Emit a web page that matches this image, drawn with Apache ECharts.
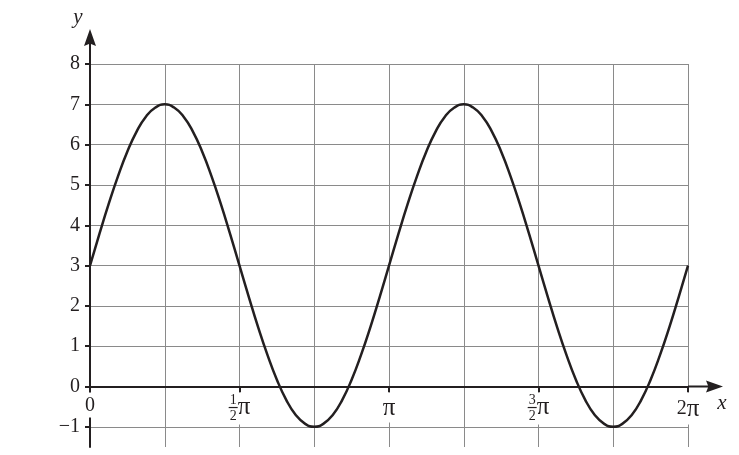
<!DOCTYPE html>
<html>
<head>
<meta charset="utf-8">
<script src="https://cdn.jsdelivr.net/npm/echarts@6/dist/echarts.min.js"></script>
<style>
  html, body { margin: 0; padding: 0; background: #fff; }
  #chart { width: 739px; height: 455px; }
</style>
</head>
<body>
<div id="chart"></div>
<script>
// x positions in units of π
const xInPi = [0, 0.03125, 0.0625, 0.09375, 0.125, 0.15625, 0.1875, 0.21875, 0.25, 0.28125, 0.3125, 0.34375, 0.375, 0.40625, 0.4375, 0.46875,
               0.5, 0.53125, 0.5625, 0.59375, 0.625, 0.65625, 0.6875, 0.71875, 0.75, 0.78125, 0.8125, 0.84375, 0.875, 0.90625, 0.9375, 0.96875,
               1, 1.03125, 1.0625, 1.09375, 1.125, 1.15625, 1.1875, 1.21875, 1.25, 1.28125, 1.3125, 1.34375, 1.375, 1.40625, 1.4375, 1.46875,
               1.5, 1.53125, 1.5625, 1.59375, 1.625, 1.65625, 1.6875, 1.71875, 1.75, 1.78125, 1.8125, 1.84375, 1.875, 1.90625, 1.9375, 1.96875, 2];
// y values
const yVals = [3, 3.78, 4.53, 5.22, 5.83, 6.33, 6.7, 6.92, 7, 6.92, 6.7, 6.33, 5.83, 5.22, 4.53, 3.78,
               3, 2.22, 1.47, 0.78, 0.17, -0.33, -0.7, -0.92, -1, -0.92, -0.7, -0.33, 0.17, 0.78, 1.47, 2.22,
               3, 3.78, 4.53, 5.22, 5.83, 6.33, 6.7, 6.92, 7, 6.92, 6.7, 6.33, 5.83, 5.22, 4.53, 3.78,
               3, 2.22, 1.47, 0.78, 0.17, -0.33, -0.7, -0.92, -1, -0.92, -0.7, -0.33, 0.17, 0.78, 1.47, 2.22, 3];
// x tick labels (positions in units of π)
const xLabelValues = [0, 0.5, 1, 1.5, 2];
const xLabelTexts = ['0', '1/2π', 'π', '3/2π', '2π'];
// y tick labels
const yLabelValues = [-1, 0, 1, 2, 3, 4, 5, 6, 7, 8];
const yMin = -1.5, yMax = 8;

const INK = '#231f20';
const GRID = '#8a8a8a';
const FONT = '"Liberation Serif", "Times New Roman", serif';
const ARROW = 'path://M6,0 L12,17 L7,15 L7,35 L5,35 L5,15 L0,17 Z';

const GRID_TOP = 64, GRID_BOTTOM = 8, H = 455;
const plotH = H - GRID_TOP - GRID_BOTTOM;
// distance from grid bottom up to the y = 0 line
const zeroLift = plotH * (0 - yMin) / (yMax - yMin);

const seriesData = xInPi.map((x, i) => [x, yVals[i]]);

function xLabel(value) {
  let idx = -1;
  xLabelValues.forEach((v, i) => { if (Math.abs(v - value) < 1e-6) idx = i; });
  if (idx < 0) return '';
  const t = xLabelTexts[idx];
  if (t === '0') return '{z|0}';
  if (t.indexOf('/') >= 0) {
    const num = t.split('/')[0];
    const den = t.split('/')[1].replace('π', '');
    return '{n|' + num + '}{h1|π}\n{bar|}{p|π}\n{d|' + den + '}{h3|π}';
  }
  if (t === 'π') return '{pi|π}';
  return '{a|' + t.replace('π', '') + '}{pi|π}';
}

const chart = echarts.init(document.getElementById('chart'), null, { renderer: 'canvas' });
chart.setOption({
  animation: false,
  backgroundColor: '#fff',
  grid: { left: 90, right: 51, top: GRID_TOP, bottom: GRID_BOTTOM, containLabel: false, outerBoundsMode: 'none' },
  xAxis: {
    type: 'value',
    min: 0, max: 2, interval: 0.5,
    position: 'bottom',
    offset: -zeroLift,
    name: 'x',
    nameLocation: 'end',
    nameGap: 34,
    nameTextStyle: { fontFamily: FONT, fontStyle: 'italic', fontSize: 21, color: INK, verticalAlign: 'top', align: 'center', padding: [6, 0, 0, 0] },
    axisLine: { show: true, onZero: false, lineStyle: { color: INK, width: 2 }, symbol: ['none', ARROW], symbolSize: [12, 35], symbolOffset: [0, 17.5] },
    axisTick: { show: true, length: 6, lineStyle: { color: INK, width: 2 } },
    minorTick: { show: false, splitNumber: 2 },
    splitLine: { show: true, lineStyle: { color: GRID, width: 1 } },
    minorSplitLine: { show: true, lineStyle: { color: GRID, width: 1 } },
    axisLabel: {
      margin: 6,
      formatter: xLabel,
      color: INK,
      fontFamily: FONT,
      hideOverlap: false,
      backgroundColor: '#fff',
      padding: [3, 1, 2, 1],
      rich: {
        z: { fontFamily: FONT, fontSize: 20, color: INK, lineHeight: 20 },
        a: { fontFamily: FONT, fontSize: 20, color: INK, lineHeight: 27 },
        pi: { fontFamily: FONT, fontSize: 25, color: INK, lineHeight: 25 },
        n: { fontFamily: FONT, fontSize: 14, color: INK, lineHeight: 10, width: 10, align: 'center' },
        h1: { fontFamily: FONT, fontSize: 25, color: 'rgba(0,0,0,0)', lineHeight: 10 },
        bar: { width: 9, height: 1.2, lineHeight: 4, backgroundColor: INK, align: 'center' },
        p: { fontFamily: FONT, fontSize: 25, color: INK, lineHeight: 4 },
        d: { fontFamily: FONT, fontSize: 14, color: INK, lineHeight: 13, width: 10, align: 'center' },
        h3: { fontFamily: FONT, fontSize: 25, color: 'rgba(0,0,0,0)', lineHeight: 13 }
      }
    }
  },
  yAxis: {
    type: 'value',
    min: yMin, max: yMax,
    name: 'y',
    nameLocation: 'end',
    nameGap: 36,
    nameTextStyle: { fontFamily: FONT, fontStyle: 'italic', fontSize: 21, color: INK, align: 'center', padding: [0, 24, 0, 0] },
    axisLine: { show: true, onZero: true, lineStyle: { color: INK, width: 2 }, symbol: ['none', ARROW], symbolSize: [12, 35], symbolOffset: [0, 17.5] },
    axisTick: { show: true, length: 5, customValues: yLabelValues, lineStyle: { color: INK, width: 2 } },
    splitLine: { show: true, lineStyle: { color: GRID, width: 1 } },
    axisLabel: {
      margin: 10,
      customValues: yLabelValues,
      color: INK,
      fontFamily: FONT,
      fontSize: 20,
      padding: [5, 0, 0, 0],
      formatter: v => (v < 0 ? '\u2212' + Math.abs(v) : String(v))
    }
  },
  series: [{
    type: 'line',
    data: seriesData,
    smooth: true,
    showSymbol: false,
    symbol: 'none',
    clip: false,
    lineStyle: { color: INK, width: 2.5 },
    z: 5
  }]
});
</script>
</body>
</html>
